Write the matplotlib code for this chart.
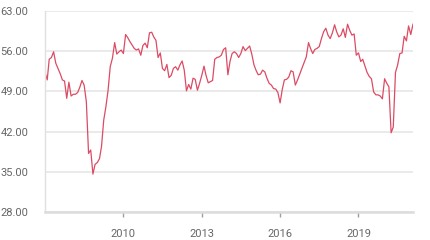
import numpy as np
import pandas as pd
import matplotlib
matplotlib.use("Agg")
import matplotlib.pyplot as plt
import matplotlib.dates as mdates

# monthly index values, Jan 2007 .. Feb 2021
start_month = "2007-01-01"
values = [
    52.3, 51.0, 54.6, 54.9, 55.9, 53.9, 53.0, 52.1, 51.0, 50.8, 47.8, 50.6,   # 2007
    48.2, 48.5, 48.5, 48.8, 49.7, 50.9, 50.1, 47.2, 38.2, 38.8, 34.6, 36.3,   # 2008
    36.6, 37.3, 39.4, 44.0, 46.3, 49.2, 53.3, 54.8, 57.5, 55.5, 55.9, 56.2,   # 2009
    55.6, 58.9, 58.4, 57.7, 57.1, 56.5, 56.2, 56.4, 55.3, 57.0, 57.4, 56.6,   # 2010
    59.2, 59.3, 58.5, 57.9, 54.9, 55.7, 53.0, 52.6, 53.7, 51.4, 51.8, 53.0,   # 2011
    53.3, 52.7, 53.6, 54.3, 52.7, 49.1, 50.2, 49.4, 51.3, 51.1, 49.2, 50.4,   # 2012
    51.8, 53.4, 51.8, 50.5, 50.7, 50.9, 54.6, 54.9, 55.0, 55.3, 56.3, 56.6,   # 2013
    51.9, 54.3, 55.6, 55.9, 55.6, 54.9, 55.6, 56.8, 56.1, 56.5, 56.9, 55.5,   # 2014
    53.6, 52.6, 51.9, 52.0, 52.7, 52.4, 51.3, 50.4, 50.1, 49.5, 49.4, 48.8,   # 2015
    47.0, 49.4, 51.0, 51.1, 51.5, 52.6, 52.4, 50.1, 51.0, 52.0, 53.0, 54.0,   # 2016
    55.0, 57.5, 56.5, 55.6, 56.3, 56.5, 56.8, 58.2, 59.4, 60.0, 58.8, 58.2,   # 2017
    59.2, 60.6, 59.4, 58.5, 58.8, 59.9, 58.4, 60.7, 59.6, 58.8, 59.0, 55.3,   # 2018
    55.7, 54.2, 54.6, 53.4, 52.3, 51.6, 51.2, 48.9, 48.4, 48.4, 48.2, 47.7,   # 2019
    51.2, 50.4, 49.8, 41.8, 42.8, 52.3, 53.6, 55.6, 55.7, 58.6, 57.8, 60.4,   # 2020
    58.9, 60.7,                                                              # 2021
]
yticks = [28, 35, 42, 49, 56, 63]
xtick_years = [2010, 2013, 2016, 2019]

dates = pd.date_range(start_month, periods=len(values), freq="MS")

fig = plt.figure(figsize=(4.3, 2.4), dpi=100)
ax = fig.add_axes([45 / 430, 1 - 212 / 240, 368 / 430, 201 / 240])

ax.plot(dates, values, color="#dc4b64", lw=0.9)

ax.set_xlim(dates[0], dates[-1])
ax.set_ylim(yticks[0], yticks[-1])
ax.set_yticks(yticks)
ax.set_yticklabels([f"{v:.2f}" for v in yticks])
ax.set_xticks([pd.Timestamp(f"{y}-01-01") for y in xtick_years])
ax.xaxis.set_major_formatter(mdates.DateFormatter("%Y"))

ax.grid(axis="y", color="#e6e6e6", lw=1.2)
ax.set_axisbelow(True)
for s in ["top", "right"]:
    ax.spines[s].set_visible(False)
ax.spines["left"].set_color("#e0e0e0")
ax.spines["left"].set_linewidth(1.0)
ax.spines["bottom"].set_color("#dcdcdc")
ax.spines["bottom"].set_linewidth(1.8)

ax.tick_params(axis="y", length=0, pad=12, labelsize=8, labelcolor="#666666")
ax.tick_params(axis="x", length=3.5, width=1, color="#9aa0a8", pad=9,
               labelsize=8, labelcolor="#666666")
for lbl in ax.get_xticklabels() + ax.get_yticklabels():
    lbl.set_fontfamily("Roboto")

fig.savefig("out.png", dpi=100)
